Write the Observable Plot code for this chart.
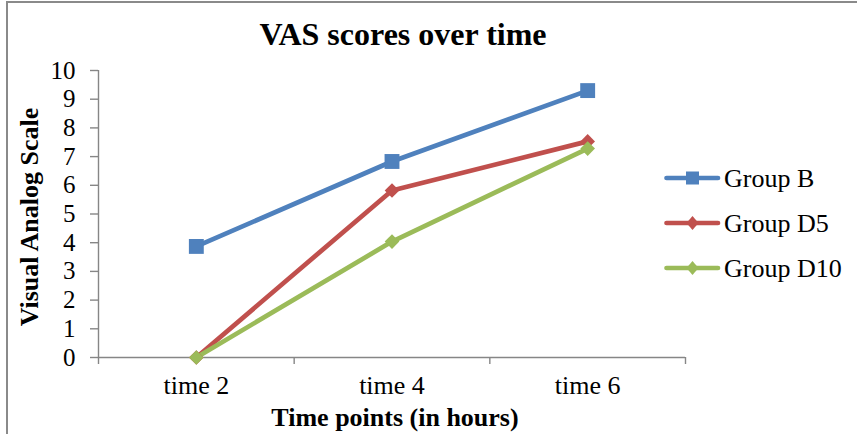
<!DOCTYPE html>
<html>
<head>
<meta charset="utf-8">
<script src="https://cdn.jsdelivr.net/npm/d3@7"></script>
<script src="https://cdn.jsdelivr.net/npm/@observablehq/plot@0.6"></script>
<style>
  html, body { margin: 0; padding: 0; background: #fff; }
  #wrap { position: relative; width: 857px; height: 434px; overflow: hidden; font-family: "Liberation Serif", "Times New Roman", serif; color: #000; }
  #frame { position: absolute; left: 6px; top: 1px; width: 900px; height: 500px; border-top: 2px solid #8a8a8a; border-left: 2px solid #8a8a8a; box-sizing: border-box; }
  #chart, #overlay { position: absolute; left: 0; top: 0; }
  #overlay text { font-family: "Liberation Serif", "Times New Roman", serif; fill: #000; }
</style>
</head>
<body>
<div id="wrap">
  <div id="frame"></div>
  <div id="chart"></div>
  <svg id="overlay" width="857" height="434"></svg>
</div>
<script>
const title = "VAS scores over time";
const xTitle = "Time points (in hours)";
const yTitle = "Visual Analog Scale";
const categories = ["time 2", "time 4", "time 6"];
const seriesNames = ["Group B", "Group D5", "Group D10"];
const groupB = [3.87, 6.83, 9.30];
const groupD5 = [0, 5.82, 7.53];
const groupD10 = [0, 4.04, 7.28];
const yTicks = [0, 1, 2, 3, 4, 5, 6, 7, 8, 9, 10];
const colors = ["#4F81BD", "#C0504D", "#9BBB59"];
const symbols = ["square", "diamond2", "diamond2"];

const values = [groupB, groupD5, groupD10];
const data = [];
seriesNames.forEach((s, si) => {
  categories.forEach((c, ci) => {
    data.push({ series: s, time: c, pos: ci + 0.5, value: values[si][ci] });
  });
});
const boundaries = d3.range(categories.length + 1);
const centers = categories.map((c, i) => i + 0.5);
const serif = "Liberation Serif, Times New Roman, serif";

const chart = Plot.plot({
  width: 857,
  height: 434,
  marginLeft: 98,
  marginRight: 172,
  marginTop: 70,
  marginBottom: 77,
  style: { fontFamily: serif, fontSize: "26px", color: "#000", background: "transparent" },
  x: { domain: [0, categories.length] },
  y: { domain: [0, 10] },
  color: { domain: seriesNames, range: colors },
  symbol: { domain: seriesNames, range: symbols },
  marks: [
    Plot.axisY({ ticks: yTicks, tickSize: 8, tickPadding: 15, stroke: "#868686", strokeWidth: 1.4, label: null, fontSize: 25, tickFormat: d => String(d) }),
    Plot.axisX({ ticks: boundaries, tickSize: 7, stroke: "#868686", strokeWidth: 1.4, tickFormat: () => "", label: null }),
    Plot.axisX({ ticks: centers, tickSize: 0, tickPadding: 18, label: null, fontSize: 26, tickFormat: v => categories[Math.floor(v)] }),
    Plot.ruleX([0], { stroke: "#868686", strokeWidth: 1.4 }),
    Plot.ruleY([0], { stroke: "#868686", strokeWidth: 1.4 }),
    Plot.line(data, { x: "pos", y: "value", z: "series", stroke: "series", strokeWidth: 4.7, strokeLinejoin: "round" }),
    Plot.dot(data.filter(d => d.series === "Group B"), { x: "pos", y: "value", symbol: "series", fill: "series", r: 8.4, stroke: null }),
    Plot.dot(data.filter(d => d.series !== "Group B"), { x: "pos", y: "value", symbol: "series", fill: "series", r: 6.6, stroke: null })
  ]
});
document.getElementById("chart").appendChild(chart);

// Titles and legend
const ov = d3.select("#overlay");
ov.append("text").attr("x", 403).attr("y", 45).attr("text-anchor", "middle")
  .attr("font-size", 32).attr("font-weight", "bold").text(title);
ov.append("text").attr("x", 395).attr("y", 426).attr("text-anchor", "middle")
  .attr("font-size", 26).attr("font-weight", "bold").text(xTitle);
ov.append("text").attr("transform", "translate(37.5,217) rotate(-90)").attr("text-anchor", "middle")
  .attr("font-size", 26).attr("font-weight", "bold").text(yTitle);

const lg = ov.append("g").attr("transform", "translate(664,178)");
seriesNames.forEach((s, i) => {
  const g = lg.append("g").attr("transform", `translate(0,${i * 45})`);
  g.append("line").attr("x1", 2.5).attr("x2", 54).attr("y1", 0).attr("y2", 0)
    .attr("stroke", colors[i]).attr("stroke-width", 4.7).attr("stroke-linecap", "round");
  if (symbols[i] === "square") {
    g.append("rect").attr("x", 22).attr("y", -6.5).attr("width", 13).attr("height", 13).attr("fill", colors[i]);
  } else {
    g.append("path").attr("d", "M28.5,-7 L34.5,0 L28.5,7 L22.5,0 Z").attr("fill", colors[i]);
  }
  g.append("text").attr("x", 60).attr("y", 9).attr("font-size", 26).text(s);
});
</script>
</body>
</html>
